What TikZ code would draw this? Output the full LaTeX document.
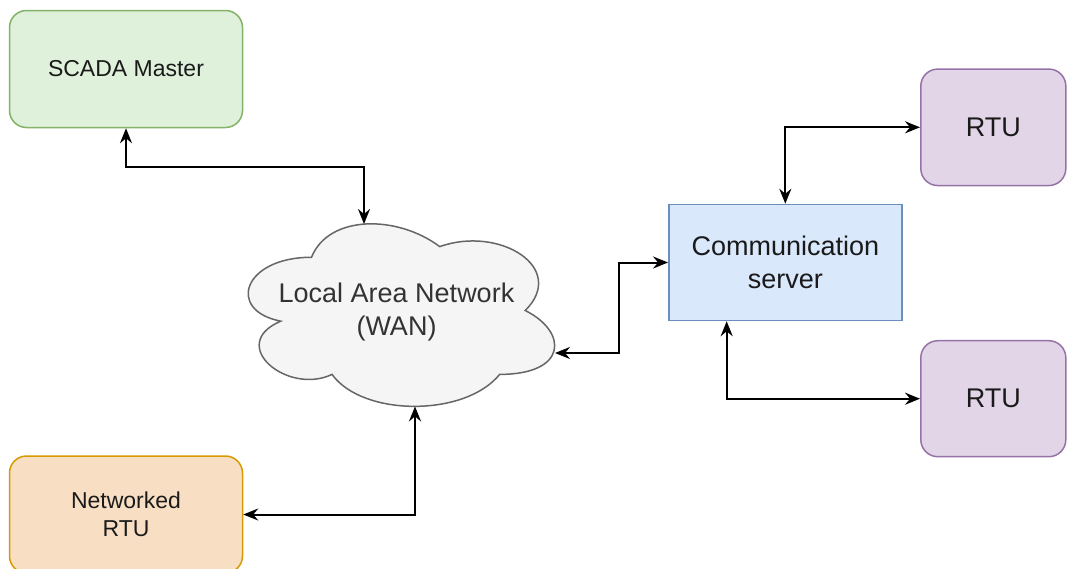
\documentclass[tikz,border=0pt]{standalone}
\usepackage{fontspec}
\setmainfont{Liberation Sans}
\usetikzlibrary{arrows.meta,calc}
\definecolor{gfill}{HTML}{DFF0DB}
\definecolor{gdraw}{HTML}{82B366}
\definecolor{ofill}{HTML}{F8DFC4}
\definecolor{odraw}{HTML}{D79B00}
\definecolor{pfill}{HTML}{E1D5E7}
\definecolor{pdraw}{HTML}{9673A6}
\definecolor{bfill}{HTML}{DAE8FC}
\definecolor{bdraw}{HTML}{6C8EBF}
\definecolor{cfill}{HTML}{F5F5F5}
\definecolor{cdraw}{HTML}{666666}
\definecolor{ctext}{HTML}{333333}
\definecolor{btext}{HTML}{1A1A1A}
\tikzset{
  box/.style={rectangle, line width=1.5pt, align=center, text=btext, inner sep=0pt},
  rbox/.style={box, rounded corners=17pt},
  bigtext/.style={font=\fontsize{27}{32.4}\selectfont},
  smalltext/.style={font=\fontsize{23}{27.6}\selectfont},
  conn/.style={line width=2pt, black, {Stealth[length=15pt,width=12pt,inset=5pt]}-{Stealth[length=15pt,width=12pt,inset=5pt]}},
}
\begin{document}
\begin{tikzpicture}[x=1pt,y=-1pt]
\useasboundingbox (0,0) rectangle (1067,568);
% cloud
\begin{scope}[shift={(226,204)}]
\path[fill=cfill, draw=cdraw, line width=1.5pt]
  (0.25*342,0.25*213)
  .. controls (0.05*342,0.25*213) and (0,0.5*213) .. (0.16*342,0.55*213)
  .. controls (0,0.66*213) and (0.18*342,0.9*213) .. (0.31*342,0.8*213)
  .. controls (0.4*342,1*213) and (0.7*342,1*213) .. (0.8*342,0.8*213)
  .. controls (1*342,0.8*213) and (1*342,0.6*213) .. (0.875*342,0.5*213)
  .. controls (1*342,0.3*213) and (0.8*342,0.1*213) .. (0.625*342,0.2*213)
  .. controls (0.5*342,0.05*213) and (0.3*342,0.05*213) .. (0.25*342,0.25*213)
  -- cycle;
\end{scope}
\node[bigtext, text=ctext, align=center] (cloud) at (396.5,312) {Local Area Network\\(WAN)};
\coordinate (cloudtop) at (364,224);
\coordinate (cloudright) at (555,353);
\coordinate (cloudbottom) at (415,406.4);
% boxes
\node[rbox, smalltext, fill=gfill, draw=gdraw, minimum width=233pt, minimum height=117pt] (scada) at (126,69) {SCADA Master};
\node[box, bigtext, fill=bfill, draw=bdraw, minimum width=233pt, minimum height=116pt] (comm) at (785.3,262.5) {Communication\\server};
\node[rbox, bigtext, fill=pfill, draw=pdraw, minimum width=145pt, minimum height=116.5pt] (rtu1) at (993.3,127.3) {RTU};
\node[rbox, bigtext, fill=pfill, draw=pdraw, minimum width=145pt, minimum height=116pt] (rtu2) at (993.3,398.7) {RTU};
\node[rbox, smalltext, fill=ofill, draw=odraw, minimum width=233pt, minimum height=117pt] (netrtu) at (126,514.5) {Networked\\RTU};
% connectors
\draw[conn] (scada.south) -- ++(0,39) -| (cloudtop);
\draw[conn] (cloudright) -- ++(64,0) |- (comm.west);
\draw[conn] (comm.north) |- (rtu1.west);
\draw[conn] ($(comm.south west)!0.25!(comm.south east)$) |- (rtu2.west);
\draw[conn] (cloudbottom) |- (netrtu.east);
\end{tikzpicture}
\end{document}
